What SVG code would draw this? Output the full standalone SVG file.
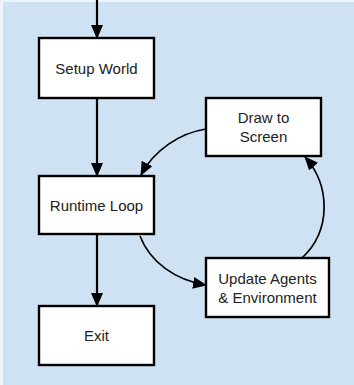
<svg xmlns="http://www.w3.org/2000/svg" width="354" height="385" viewBox="0 0 354 385">
<defs>
<marker id="ah" markerWidth="14" markerHeight="12" refX="13" refY="6" orient="auto" markerUnits="userSpaceOnUse" viewBox="0 0 14 12">
<path d="M0,0 L14,6 L0,12 z" fill="#000"/>
</marker>
<style>
.box{fill:#fff;stroke:#000;stroke-width:2.4}
.lbl{font-family:"Liberation Sans",Arial,sans-serif;font-size:15px;fill:#222;text-anchor:middle}
.conn{fill:none;stroke:#000;stroke-width:2.2}
.curve{fill:none;stroke:#000;stroke-width:1.7}
</style>
</defs>
<rect x="0" y="0" width="354" height="385" fill="#eef4fa"/>
<rect x="3" y="2" width="351" height="383" fill="#cfe2f3"/>
<g id="connectors">
<path class="conn" d="M97,0 V38" marker-end="url(#ah)"/>
<path class="conn" d="M97,99 V176" marker-end="url(#ah)"/>
<path class="conn" d="M97,235 V306" marker-end="url(#ah)"/>
<path class="curve" d="M206,129 C180,133 154,150 141,175" marker-end="url(#ah)"/>
<path class="curve" d="M140,236 C150,262 175,280 206,285" marker-end="url(#ah)"/>
<path class="curve" d="M302,258 C332,230 330,185 305,157" marker-end="url(#ah)"/>
</g>
<g id="setup"><rect class="box" x="39" y="38" width="115" height="60"/><text class="lbl" x="96.5" y="74">Setup World</text></g>
<g id="runtime"><rect class="box" x="39" y="176" width="115" height="58"/><text class="lbl" x="96.5" y="211">Runtime Loop</text></g>
<g id="exit"><rect class="box" x="39" y="306" width="115" height="59"/><text class="lbl" x="96.5" y="341">Exit</text></g>
<g id="draw"><rect class="box" x="206" y="98" width="115" height="58"/><text class="lbl" x="263.5" y="123">Draw to</text><text class="lbl" x="263.5" y="142">Screen</text></g>
<g id="update"><rect class="box" x="206" y="258" width="123" height="59"/><text class="lbl" x="267.5" y="284">Update Agents</text><text class="lbl" x="267.5" y="303">&amp; Environment</text></g>
</svg>
